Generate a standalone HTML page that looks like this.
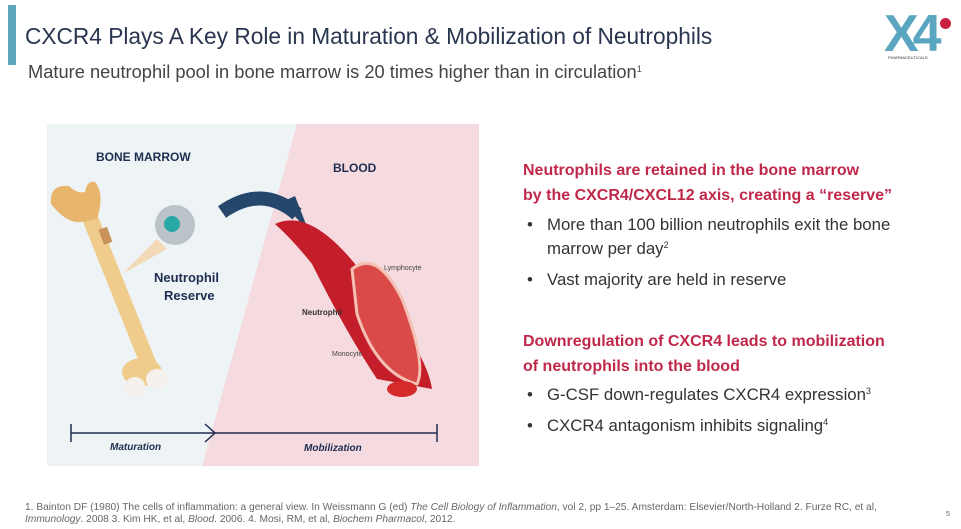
<!DOCTYPE html>
<html><head><meta charset="utf-8"><style>
body{margin:0;width:961px;height:529px;background:#fff;position:relative;overflow:hidden;font-family:"Liberation Sans",sans-serif}
.a{position:absolute;white-space:nowrap}
.h{color:#c0284a;font-weight:bold;font-size:16px;line-height:25px}
.b{color:#333;font-size:16.8px;line-height:24px}
sup{font-size:9px;line-height:0;vertical-align:6px}
</style></head><body>
<div class="a" style="left:8px;top:5px;width:8px;height:60px;background:#5ea7bd"></div>
<div class="a" style="left:25px;top:23px;font-size:22.7px;color:#2a3550">CXCR4 Plays A Key Role in Maturation &amp; Mobilization of Neutrophils</div>
<div class="a" style="left:28px;top:61px;font-size:18.3px;color:#444">Mature neutrophil pool in bone marrow is 20 times higher than in circulation<sup>1</sup></div>
<div class="a" style="left:884px;top:8px;font-size:52px;font-weight:bold;color:#5aa5bf;letter-spacing:-6px;line-height:52px">X4</div>
<div class="a" style="left:940px;top:18px;width:11px;height:11px;border-radius:50%;background:#c8203f"></div>
<div class="a" style="left:888px;top:55px;font-size:4px;color:#333">PHARMACEUTICALS</div>

<svg class="a" style="left:47px;top:124px" width="432" height="342">
<rect width="432" height="342" fill="#eef4f6"/>
<polygon points="250,0 432,0 432,342 155,342" fill="#f5dbe0"/>
<path d="M32,88 L46,80 L110,240 L96,248Z" fill="#f0cc8c"/>
<path d="M4,80 Q2,60 22,62 Q30,70 38,68 Q40,56 48,58 Q58,70 50,95 L34,98 Q20,100 4,80Z" fill="#e8b56d"/>
<ellipse cx="95" cy="248" rx="20" ry="14" fill="#f0cc8c"/>
<ellipse cx="110" cy="255" rx="11" ry="10" fill="#f5f0ee"/><ellipse cx="88" cy="263" rx="10" ry="10" fill="#f5f0ee"/>
<rect x="54" y="104" width="9" height="16" fill="#c9925a" transform="rotate(-20 58 112)"/>
<circle cx="128" cy="101" r="20" fill="#b9c3c8"/><circle cx="125" cy="100" r="8" fill="#2aa7a9"/>
<polygon points="75,150 110,115 120,125" fill="#f4d9b6"/>
<path d="M175,88 Q215,60 250,90" stroke="#24476b" stroke-width="14" fill="none"/>
<polygon points="235,78 262,108 248,72" fill="#24476b"/>
<path d="M228,100 Q270,80 330,170 Q380,230 385,265 L330,255 Q300,210 265,140 Q245,115 228,100Z" fill="#c41e2a"/>
<path d="M305,145 Q330,125 355,175 Q380,240 370,260 Q330,250 310,190Z" fill="#d94a48" stroke="#f4c0b4" stroke-width="3"/>
<ellipse cx="355" cy="265" rx="15" ry="8" fill="#d42a2a"/>
<text x="49" y="37" font-family="Liberation Sans" font-weight="bold" font-size="12" fill="#1e2d50">BONE MARROW</text>
<text x="286" y="48" font-family="Liberation Sans" font-weight="bold" font-size="12" fill="#1e2d50">BLOOD</text>
<text x="107" y="158" font-family="Liberation Sans" font-weight="bold" font-size="13" fill="#1e2d50">Neutrophil</text>
<text x="117" y="176" font-family="Liberation Sans" font-weight="bold" font-size="13" fill="#1e2d50">Reserve</text>
<text x="255" y="191" font-family="Liberation Sans" font-weight="bold" font-size="8" fill="#333">Neutrophil</text>
<text x="285" y="232" font-family="Liberation Sans" font-size="7" fill="#444">Monocyte</text>
<text x="337" y="146" font-family="Liberation Sans" font-size="7" fill="#444">Lymphocyte</text>
<line x1="24" y1="309" x2="390" y2="309" stroke="#1e2d50" stroke-width="1.5"/>
<line x1="24" y1="300" x2="24" y2="318" stroke="#1e2d50" stroke-width="1.5"/>
<line x1="390" y1="300" x2="390" y2="318" stroke="#1e2d50" stroke-width="1.5"/>
<polyline points="158,300 168,309 158,318" stroke="#1e2d50" stroke-width="1.5" fill="none"/>
<text x="63" y="326" font-family="Liberation Sans" font-style="italic" font-weight="bold" font-size="10" fill="#1e2d50">Maturation</text>
<text x="257" y="327" font-family="Liberation Sans" font-style="italic" font-weight="bold" font-size="10" fill="#1e2d50">Mobilization</text>
</svg>

<div class="a h" style="left:523px;top:158px">Neutrophils are retained in the bone marrow<br>by the CXCR4/CXCL12 axis, creating a “reserve”</div>
<div class="a b" style="left:527px;top:213px">•</div><div class="a b" style="left:547px;top:213px">More than 100 billion neutrophils exit the bone<br>marrow per day<sup>2</sup></div>
<div class="a b" style="left:527px;top:268px">•</div><div class="a b" style="left:547px;top:268px">Vast majority are held in reserve</div>
<div class="a h" style="left:523px;top:329px">Downregulation of CXCR4 leads to mobilization<br>of neutrophils into the blood</div>
<div class="a b" style="left:527px;top:383px">•</div><div class="a b" style="left:547px;top:383px">G-CSF down-regulates CXCR4 expression<sup>3</sup></div>
<div class="a b" style="left:527px;top:414px">•</div><div class="a b" style="left:547px;top:414px">CXCR4 antagonism inhibits signaling<sup>4</sup></div>
<div class="a" style="left:25px;top:502px;font-size:10.2px;line-height:12px;color:#666">1. Bainton DF (1980) The cells of inflammation: a general view. In Weissmann G (ed) <i>The Cell Biology of Inflammation</i>, vol 2, pp 1–25. Amsterdam: Elsevier/North-Holland 2. Furze RC, et al,<br><i>Immunology</i>. 2008 3. Kim HK, et al, <i>Blood</i>. 2006. 4. Mosi, RM, et al, <i>Biochem Pharmacol</i>, 2012.</div>
<div class="a" style="left:946px;top:511px;font-size:7px;color:#666">5</div>
</body></html>
